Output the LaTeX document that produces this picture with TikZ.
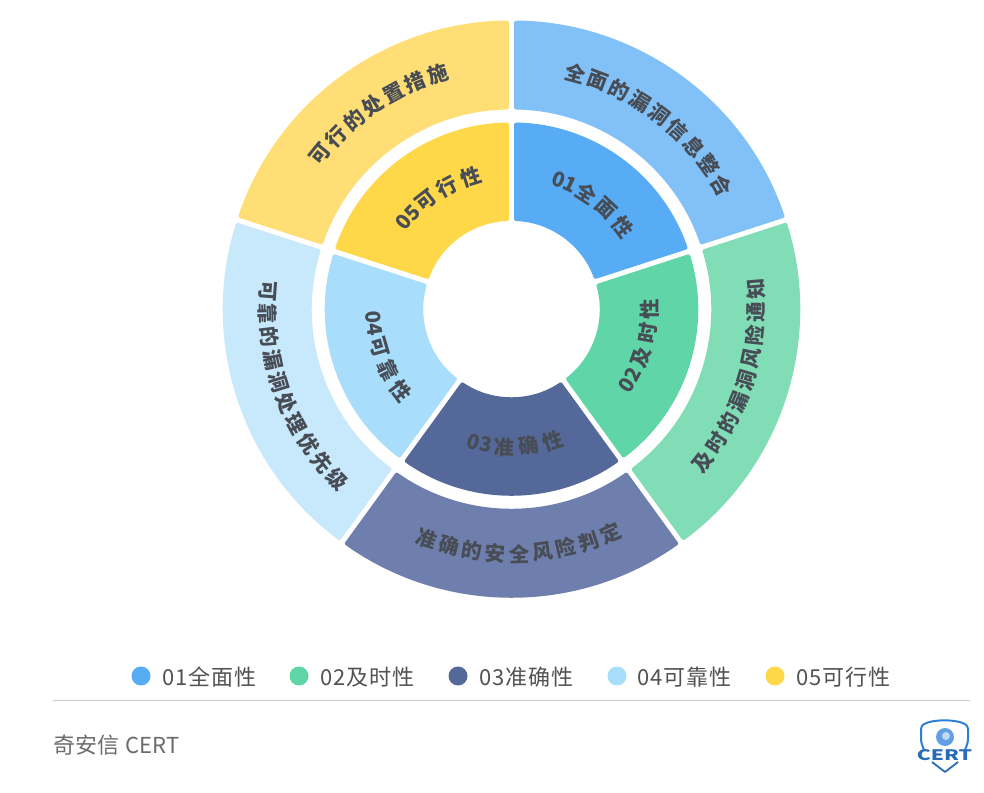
\documentclass[tikz,border=0pt]{standalone}
\usepackage{fontspec}
\setmainfont{Noto Sans CJK SC}
\newfontfamily\cjk{Noto Sans CJK SC}
\definecolor{aOut}{HTML}{82C1F8}\definecolor{aIn}{HTML}{58ABF5}
\definecolor{bOut}{HTML}{80DDB6}\definecolor{bIn}{HTML}{60D6A8}
\definecolor{cOut}{HTML}{6F7FAD}\definecolor{cIn}{HTML}{55689A}
\definecolor{dOut}{HTML}{C8E8FC}\definecolor{dIn}{HTML}{A8DDFB}
\definecolor{eOut}{HTML}{FFDF75}\definecolor{eIn}{HTML}{FFD84A}
\definecolor{labelc}{HTML}{474C55}
\definecolor{logoc}{HTML}{2F7FD8}
\tikzset{
  x=1pt,y=1pt,
  ringlabel/.style={inner sep=0pt,text=labelc,font=\cjk\fontsize{20.5}{21}\bfseries\selectfont},
  legendtext/.style={anchor=west,inner sep=0pt,text=black!68,font=\cjk\fontsize{22}{22}\selectfont\addfontfeature{LetterSpace=4}},
  legenddot/.style={circle,inner sep=0pt,minimum size=19pt},
}
% sector: index, inner radius, outer radius, colour
\newcommand{\ringsector}[4]{%
  \pgfmathsetmacro{\aoS}{90-72*(#1-1)-2.6/#3*57.3}%
  \pgfmathsetmacro{\aoE}{90-72*#1+2.6/#3*57.3}%
  \pgfmathsetmacro{\aiS}{90-72*(#1-1)-2.6/#2*57.3}%
  \pgfmathsetmacro{\aiE}{90-72*#1+2.6/#2*57.3}%
  \fill[#4,rounded corners=2pt] (\aoS:#3pt) arc[start angle=\aoS,end angle=\aoE,radius=#3pt]
    -- (\aiE:#2pt) arc[start angle=\aiE,end angle=\aiS,radius=#2pt] -- cycle;}
% characters along an arc: prefix, start cw angle, radius, direction, list char/offset
\newcommand{\arctext}[5]{%
  \foreach \ch/\off [count=\k] in {#5}{%
    \pgfmathsetmacro{\cw}{#2+#4*\off}%
    \pgfmathsetmacro{\rot}{#4>0 ? -\cw : 180-\cw}%
    \node[ringlabel,rotate=\rot] (#1\k) at ({90-\cw}:#3pt) {\ch};}}
\begin{document}
\begin{tikzpicture}
\useasboundingbox (0,0) rectangle (984,792);
\fill[white] (0,0) rectangle (984,792);
\begin{scope}[shift={(511.5,483)}]
  \ringsector{1}{88}{186.5}{aIn}\ringsector{2}{88}{186.5}{bIn}\ringsector{3}{88}{186.5}{cIn}\ringsector{4}{88}{186.5}{dIn}\ringsector{5}{88}{186.5}{eIn}
  \ringsector{1}{199.5}{288.5}{aOut}\ringsector{2}{199.5}{288.5}{bOut}\ringsector{3}{199.5}{288.5}{cOut}\ringsector{4}{199.5}{288.5}{dOut}\ringsector{5}{199.5}{288.5}{eOut}
  % outer labels
  \arctext{oa}{15.2}{244}{1}{全/0,面/5.53,的/11.06,漏/16.59,洞/22.12,信/27.65,息/33.18,整/38.71,合/44.24}
  \arctext{ob}{128.5}{245}{-1}{及/0,时/5.4,的/10.8,漏/16.2,洞/21.6,风/27,险/32.4,通/37.8,知/43.2}
  \arctext{oc}{200.2}{245}{-1}{准/0,确/5.5,的/11,安/16.5,全/22,风/27.5,险/33,判/38.5,定/44}
  \arctext{od}{274.2}{244}{-1}{可/0,靠/5.39,的/10.78,漏/16.17,洞/21.56,处/26.95,理/32.34,优/37.73,先/43.12,级/48.51}
  \arctext{oe}{309}{246}{1}{可/0,行/5.58,的/11.16,处/16.74,置/22.32,措/27.9,施/33.5}
  % inner labels
  \arctext{ia}{19.9}{138}{1}{0/0,1/5.2,全/13,面/23.2,性/33.6}
  \arctext{ib}{123.3}{138}{-1}{0/0,2/5.2,及/13,时/23.1,性/33.3}
  \arctext{ic}{196}{138}{-1}{0/0,3/5.2,准/13,确/23.2,性/33.5}
  \arctext{id}{266.7}{138}{-1}{0/0,4/5.2,可/13,靠/23.1,性/33.2}
  \arctext{ie}{308.9}{138}{1}{0/0,5/5.2,可/13,行/23.3,性/33.8}
\end{scope}
% legend
\node[legenddot,fill=aIn] (la) at (141,116) {};
\node[legendtext] (lat) at (162,115) {01全面性};
\node[legenddot,fill=bIn] (lb) at (299,116) {};
\node[legendtext] (lbt) at (320,115) {02及时性};
\node[legenddot,fill=cIn] (lc) at (458,116) {};
\node[legendtext] (lct) at (479,115) {03准确性};
\node[legenddot,fill=dIn] (ld) at (617,116) {};
\node[legendtext] (ldt) at (637,115) {04可靠性};
\node[legenddot,fill=eIn] (le) at (775,116) {};
\node[legendtext] (let) at (796,115) {05可行性};
% rule
\draw[black!20,line width=1pt] (53,92) -- (970,92);
% footer
\node[anchor=west,inner sep=0pt,text=black!58,font=\cjk\fontsize{22}{22}\selectfont\addfontfeature{LetterSpace=1.5}] (foot) at (53,47) {奇安信 CERT};
% logo
\draw[logoc,line width=2pt,line join=round,rounded corners=3pt] (924,42) -- (921,50) -- (921,66) .. controls (932,73) and (957,73) .. (968,66) -- (968,50) -- (965,42);
\draw[logoc!85!black,line width=1.8pt,line join=round] (932,30) -- (945,20) -- (958,30);
\fill[logoc!75] (945,55) circle (9pt);
\fill[white!70!logoc] (946,56) circle (4pt);
\node[inner sep=0pt,text=logoc!85!black,xscale=1.45,font=\cjk\fontsize{14.5}{15}\bfseries\selectfont] (logo) at (944.5,37) {CERT};
\end{tikzpicture}
\end{document}
